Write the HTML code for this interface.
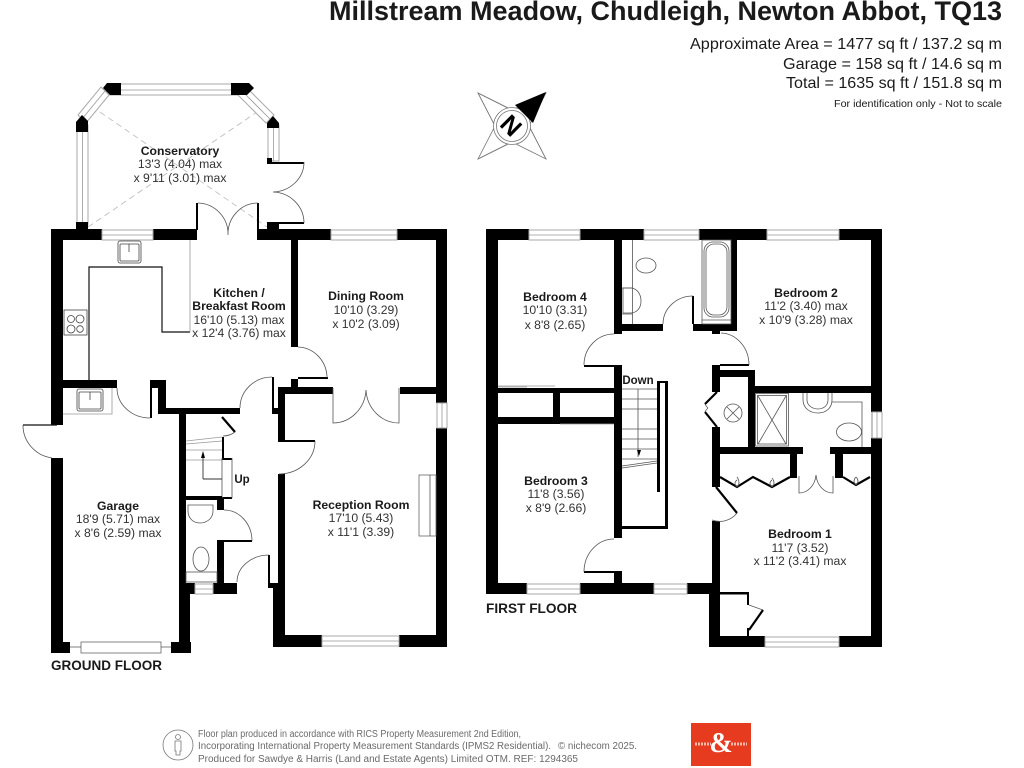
<!DOCTYPE html>
<html><head><meta charset="utf-8"><style>
html,body{margin:0;padding:0;background:#fff}
svg{display:block}
text{font-family:"Liberation Sans",sans-serif;fill:#1a1a1a}
.b{font-weight:700;font-size:12.2px;text-anchor:middle}
.r{font-size:12.2px;text-anchor:middle;fill:#333}
.f{font-weight:700;font-size:13.5px}
.g{font-size:9.7px;fill:#6a6a6a}
.h{font-size:15.6px;text-anchor:end}
.w{fill:#fff;stroke:#aaa;stroke-width:1}
.l{fill:none;stroke:#555;stroke-width:.8}
.t{fill:none;stroke:#111;stroke-width:1.2}
.k{fill:none;stroke:#000;stroke-width:2.2}
.y{fill:none;stroke:#999;stroke-width:.8}
.d{fill:none;stroke:#bbb;stroke-width:.8;stroke-dasharray:6 4}
</style></head><body>
<svg width="1024" height="768" viewBox="0 0 1024 768" xmlns="http://www.w3.org/2000/svg">
<rect width="1024" height="768" fill="#fff"/>
<text x="1002" y="20" text-anchor="end" font-weight="700" font-size="26.5" textLength="673" lengthAdjust="spacingAndGlyphs">Millstream Meadow, Chudleigh, Newton Abbot, TQ13</text>
<text class="h" x="1002" y="49" textLength="312" lengthAdjust="spacingAndGlyphs">Approximate Area = 1477 sq ft / 137.2 sq m</text>
<text class="h" x="1002" y="69" textLength="219" lengthAdjust="spacingAndGlyphs">Garage = 158 sq ft / 14.6 sq m</text>
<text class="h" x="1002" y="88" textLength="216" lengthAdjust="spacingAndGlyphs">Total = 1635 sq ft / 151.8 sq m</text>
<text x="1002" y="107" text-anchor="end" font-size="10.5" textLength="168" lengthAdjust="spacingAndGlyphs">For identification only - Not to scale</text>

<!-- compass -->
<g fill="none" stroke="#777" stroke-width=".8">
<path d="M478 93L512 110L546 93L529 126L546 159L512 142L478 159L495 126Z"/>
<path d="M478 93L495 126L512 110M478 93L512 110M478 159L512 142L495 126M546 159L529 126L512 142"/>
<circle cx="512" cy="126" r="18.5" fill="#fff"/><circle cx="512" cy="126" r="15.5"/>
</g>
<path d="M546 92L515 105L533 123Z" fill="#000"/>
<text x="0" y="0" transform="translate(512,126) rotate(45) translate(-10,9)" font-size="25" font-weight="700" style="fill:#000">N</text>

<!-- conservatory -->
<path class="d" d="M88 227L257 112M100 112L267 227"/>
<rect class="w" x="110" y="84" width="130" height="11"/><path class="y" d="M110 90H240"/>
<path class="w" d="M101 87L109 95L86 123L78 115Z"/><path class="y" d="M105 91L82 119"/>
<path class="w" d="M246 87L238 95L266 123L274 115Z"/><path class="y" d="M242 91L270 119"/>
<rect class="w" x="77" y="125" width="11" height="100"/><path class="y" d="M82.5 125V225"/>
<rect class="w" x="268" y="125" width="11" height="36"/><path class="y" d="M273.5 125V161"/>
<path d="M107 83H121V95H110L103 88ZM231 83H249L254 88L247 95H231ZM76 122L82 115L88 121V132H76ZM267 128V123L273 116L279 123V128ZM76 222H88V232H76Z" fill="#000"/>
<path d="M267 158H272V162H304V164H267Z" fill="#000"/>
<path d="M267 223H304V225H279V230H267Z" fill="#000" transform="translate(0,-1)"/>
<path class="l" d="M304 162A32 30 0 0 1 273 192A32 31 0 0 1 304 223"/>
<rect x="196" y="203" width="2" height="27" fill="#000"/><rect x="257" y="203" width="2" height="27" fill="#000"/>
<path class="l" d="M198 203A31 31 0 0 1 228 235A30 31 0 0 1 258 203"/>

<!-- ground walls -->
<g fill="#000">
<rect x="51" y="229" width="51" height="11"/><rect x="153" y="229" width="44" height="11"/><rect x="257" y="229" width="74" height="11"/><rect x="397" y="229" width="50" height="11"/>
<rect x="51" y="229" width="12" height="196"/><rect x="51" y="458" width="12" height="195"/>
<rect x="436" y="229" width="11" height="174"/><rect x="436" y="428" width="11" height="219"/>
<rect x="63" y="380" width="54" height="8"/>
<rect x="150" y="380" width="16" height="8"/><rect x="150" y="380" width="2" height="38"/><rect x="158" y="380" width="8" height="34"/>
<rect x="158" y="408" width="82" height="6"/>
<rect x="179" y="408" width="7" height="245"/><rect x="179" y="590" width="11" height="63"/>
<rect x="51" y="642" width="19" height="11"/><rect x="171" y="642" width="20" height="11"/>
<rect x="186" y="497" width="38" height="3"/><rect x="217" y="497" width="7" height="13"/><rect x="224" y="540" width="28" height="2"/><rect x="217" y="540" width="7" height="43"/>
<rect x="186" y="583" width="9" height="11"/><rect x="213" y="583" width="24" height="11"/>
<rect x="222" y="437" width="2" height="21"/><rect x="222" y="458" width="10" height="2"/><rect x="222" y="497" width="10" height="2"/>
<rect x="291" y="240" width="7" height="107"/><rect x="291" y="379" width="7" height="8"/><rect x="298" y="377" width="30" height="2"/>
<rect x="278" y="387" width="55" height="7"/><rect x="400" y="387" width="36" height="7"/>
<rect x="278" y="387" width="7" height="54"/><rect x="278" y="440" width="37" height="2"/><rect x="278" y="474" width="7" height="173"/>
<rect x="272" y="377" width="2" height="31"/><rect x="272" y="408" width="7" height="6"/>
<rect x="273" y="583" width="12" height="64"/><rect x="268" y="555" width="2" height="33"/><rect x="268" y="583" width="6" height="5"/>
<rect x="273" y="635" width="49" height="12"/><rect x="399" y="635" width="48" height="12"/>
</g>
<path class="k" d="M222 417L235 432"/>
<path class="l" d="M235 432A20 20 0 0 1 223 436"/>
<!-- ground windows -->
<g>
<rect class="w" x="102" y="230" width="51" height="10"/><path class="y" d="M102 235H153"/>
<rect class="w" x="331" y="230" width="66" height="10"/><path class="y" d="M331 235H397"/>
<rect class="w" x="322" y="636" width="77" height="10"/><path class="y" d="M322 641H399"/>
<rect class="w" x="437" y="403" width="10" height="25"/><path class="y" d="M442 403V428"/>
<rect class="w" x="195" y="584" width="18" height="10"/><path class="y" d="M195 589H213"/>
<rect x="81" y="642" width="80" height="11" fill="#fff" stroke="#666" stroke-width=".8"/><path class="l" d="M70 647H81M161 647H171"/>
</g>
<!-- ground doors -->
<path class="l" d="M298 347A30 31 0 0 1 327 378M272 377A32 31 0 0 0 240 408M117 388A33 30 0 0 0 150 418M23 425A34 33 0 0 0 52 458M315 441A36 33 0 0 1 279 474M224 510A28 31 0 0 1 252 541M237 582A32 27 0 0 1 269 555"/>
<path class="t" d="M23 425H57"/>
<path class="l" d="M333 388V423A33 35 0 0 0 366 390A33 35 0 0 0 399 423V388"/>
<!-- kitchen -->
<path class="t" d="M89 380V267H162V332H190"/><path class="y" d="M190 240V332"/>
<g fill="none" stroke="#444" stroke-width=".8">
<rect x="118" y="241" width="23" height="22" rx="2"/><rect x="120" y="244" width="19" height="17" rx="1"/><path d="M129 244V252"/>
<rect x="64" y="310" width="23" height="25"/><circle cx="71" cy="319" r="3.5"/><circle cx="80" cy="319" r="4"/><circle cx="71" cy="329" r="4"/><circle cx="80" cy="329" r="3.3"/>
<rect x="77" y="389" width="26" height="22" rx="2"/><rect x="79" y="392" width="22" height="17" rx="1"/><path d="M90 392V400"/>
</g>
<path class="y" d="M63 414H112V388"/>
<!-- ground stairs -->
<path class="y" d="M186 441L222 437M186 444L222 441M186 450H222M186 460H222"/>
<path class="l" d="M222 458V498M232 458V498"/>
<path d="M203 479V453M203 479H222" fill="none" stroke="#333" stroke-width=".9"/><path d="M201 458L203 451L205 458Z" fill="#000"/>
<rect x="186" y="496" width="36" height="2.5" fill="#000"/>
<!-- WC -->
<g fill="none" stroke="#555" stroke-width=".8">
<path d="M188 505H213V511C213 519 206 523 200 523C193 523 188 518 188 511Z"/><ellipse cx="201" cy="559" rx="8" ry="12"/><rect x="186" y="572" width="31" height="10"/>
</g>
<rect x="419" y="475" width="17" height="61" fill="#fff" stroke="#666" stroke-width=".8"/><path class="l" d="M430 475V536"/>

<!-- first floor walls -->
<g fill="#000">
<rect x="486" y="229" width="43" height="11"/><rect x="580" y="229" width="64" height="11"/><rect x="699" y="229" width="68" height="11"/><rect x="839" y="229" width="43" height="11"/>
<rect x="486" y="229" width="12" height="365"/><rect x="486" y="583" width="41" height="11"/><rect x="580" y="583" width="74" height="11"/><rect x="687" y="583" width="26" height="11"/>
<rect x="871" y="229" width="11" height="183"/><rect x="871" y="438" width="11" height="209"/>
<rect x="709" y="636" width="56" height="11"/><rect x="839" y="636" width="43" height="11"/><rect x="709" y="594" width="11" height="53"/><rect x="712" y="521" width="8" height="73"/>
<rect x="614" y="240" width="8" height="94"/><rect x="614" y="365" width="8" height="173"/><rect x="584" y="365" width="36" height="2"/><rect x="584" y="571" width="38" height="2"/><rect x="614" y="572" width="8" height="12"/>
<rect x="622" y="324" width="41" height="7"/><rect x="693" y="324" width="44" height="7"/><rect x="692" y="296" width="2" height="28"/><rect x="731" y="240" width="6" height="91"/>
<rect x="712" y="365" width="8" height="27"/><rect x="712" y="427" width="8" height="60"/><rect x="720" y="364" width="29" height="2"/><rect x="712" y="331" width="8" height="3"/>
<rect x="712" y="370" width="43" height="7"/><rect x="748" y="370" width="7" height="77"/><rect x="748" y="386" width="134" height="7"/>
<rect x="720" y="447" width="83" height="7"/><rect x="830" y="447" width="42" height="7"/><rect x="790" y="454" width="7" height="24"/><rect x="835" y="454" width="8" height="24"/>
<rect x="498" y="388" width="116" height="5"/><rect x="498" y="417" width="116" height="7"/><rect x="553" y="393" width="7" height="24"/>
<rect x="657" y="381" width="11" height="2"/><rect x="657" y="381" width="3" height="111"/><rect x="665" y="381" width="3" height="148"/><rect x="622" y="526" width="46" height="3"/>
<rect x="720" y="592" width="29" height="2.5"/><rect x="747" y="592" width="2" height="13"/><rect x="747" y="628" width="2" height="8"/>
</g>
<!-- first windows -->
<g>
<rect class="w" x="529" y="230" width="51" height="10"/><path class="y" d="M529 235H580"/>
<rect class="w" x="644" y="230" width="55" height="10"/><path class="y" d="M644 235H699"/>
<rect class="w" x="767" y="230" width="72" height="10"/><path class="y" d="M767 235H839"/>
<rect class="w" x="527" y="584" width="53" height="10"/><path class="y" d="M527 589H580"/>
<rect class="w" x="654" y="584" width="33" height="10"/><path class="y" d="M654 589H687"/>
<rect class="w" x="765" y="637" width="74" height="10"/><path class="y" d="M765 642H839"/>
<rect class="w" x="872" y="412" width="10" height="26"/><path class="y" d="M877 412V438"/>
</g>
<!-- first doors -->
<path class="l" d="M614 334A30 31 0 0 0 584 365M663 324A30 28 0 0 1 693 296M721 333A29 32 0 0 1 749 365M614 539A30 33 0 0 0 584 572M737 513A22 22 0 0 1 712 520M749 605L763 610"/>
<path class="k" d="M716 487L737 513M749 630L763 610M717 392L705 404M717 427L705 412"/>
<path class="l" d="M705 404A12 12 0 0 0 708 408M705 412A10 10 0 0 1 708 408"/>
<circle class="l" cx="733" cy="413" r="9"/><path class="l" d="M727 407L739 419M739 407L727 419"/>
<!-- wardrobes -->
<path class="k" d="M720 477L737 487L753 477L772 487L790 477M843 477L856 485L870 477"/>
<path class="l" d="M737 487Q741 483 737 477M737 487Q733 483 737 480M772 487Q776 483 772 478M772 487Q768 483 772 480M856 485Q860 481 856 477M856 485Q852 481 856 477"/>
<path class="l" d="M799 476V493A17 20 0 0 0 816 475A17 20 0 0 0 833 493V476"/>
<!-- closets -->
<path class="y" d="M498 387H527M555 386H498M560 424H614"/>
<!-- stairs first -->
<path class="l" d="M622 389H657M622 399H657M622 409H657M622 429H657M622 439H657M622 449H657M622 459H657M638 389V457M622 466L657 461M622 468L657 463"/>
<path d="M637 450L641 450L639 456Z" fill="#000"/>
<!-- bathroom -->
<g fill="none" stroke="#555" stroke-width=".8">
<path d="M632.5 240V324M622 288H633M622 314H633"/>
<ellipse cx="646" cy="265.5" rx="10" ry="7.5"/>
<path d="M623 288H630C637 288 641 294 641 301C641 308 637 313 630 313H623Z"/>
<rect x="702" y="240" width="29" height="84"/><rect x="704" y="242" width="25" height="75" rx="9"/><rect x="706" y="244" width="21" height="71" rx="8"/>
<path d="M702 320H731"/>
</g>
<g fill="none" stroke="#555" stroke-width=".8">
<rect x="755.5" y="393.5" width="33" height="52.5"/><rect x="757.5" y="395.5" width="29" height="48.5"/><path d="M758 396L786 444M786 396L758 444"/>
<path d="M803 393V400C803 408 810 413 818 413C826 413 832 408 832 400V393"/>
<path d="M807 393V400C807 405 812 409 818 409C824 409 828 405 828 400V393"/>
<path d="M832 402H862V447"/>
<ellipse cx="849" cy="432" rx="12.5" ry="9"/>
</g>
<path d="M872 412V438" stroke="#888" fill="none"/>

<!-- labels -->
<text class="b" x="180" y="155">Conservatory</text><text class="r" x="180" y="168">13'3 (4.04) max</text><text class="r" x="180" y="182">x 9'11 (3.01) max</text>
<text class="b" x="239" y="297">Kitchen /</text><text class="b" x="239" y="310">Breakfast Room</text><text class="r" x="239" y="324">16'10 (5.13) max</text><text class="r" x="239" y="337">x 12'4 (3.76) max</text>
<text class="b" x="366" y="300">Dining Room</text><text class="r" x="366" y="314">10'10 (3.29)</text><text class="r" x="366" y="328">x 10'2 (3.09)</text>
<text class="b" x="118" y="510">Garage</text><text class="r" x="118" y="523">18'9 (5.71) max</text><text class="r" x="118" y="537">x 8'6 (2.59) max</text>
<text class="b" x="361" y="509">Reception Room</text><text class="r" x="361" y="522">17'10 (5.43)</text><text class="r" x="361" y="536">x 11'1 (3.39)</text>
<text class="b" x="242" y="483" style="font-size:11.5px">Up</text>
<text class="b" x="555" y="301">Bedroom 4</text><text class="r" x="555" y="314">10'10 (3.31)</text><text class="r" x="555" y="329">x 8'8 (2.65)</text>
<text class="b" x="806" y="297">Bedroom 2</text><text class="r" x="806" y="310">11'2 (3.40) max</text><text class="r" x="806" y="324">x 10'9 (3.28) max</text>
<text class="b" x="556" y="485">Bedroom 3</text><text class="r" x="556" y="498">11'8 (3.56)</text><text class="r" x="556" y="512">x 8'9 (2.66)</text>
<text class="b" x="800" y="538">Bedroom 1</text><text class="r" x="800" y="552">11'7 (3.52)</text><text class="r" x="800" y="565">x 11'2 (3.41) max</text>
<text class="b" x="638" y="384" style="font-size:11.5px">Down</text>
<text class="f" x="51" y="670" textLength="111" lengthAdjust="spacingAndGlyphs">GROUND FLOOR</text>
<text class="f" x="486" y="613" textLength="91" lengthAdjust="spacingAndGlyphs">FIRST FLOOR</text>

<!-- footer -->
<g fill="none" stroke="#777" stroke-width=".8"><circle cx="178" cy="745" r="15"/><circle cx="178" cy="737" r="2.5"/><path d="M175 741H181V751H180V755H176V751H175Z"/></g>
<text class="g" x="198" y="737" textLength="323" lengthAdjust="spacingAndGlyphs">Floor plan produced in accordance with RICS Property Measurement 2nd Edition,</text>
<text class="g" x="198" y="749" textLength="353" lengthAdjust="spacingAndGlyphs">Incorporating International Property Measurement Standards (IPMS2 Residential).</text>
<text class="g" x="558" y="749" textLength="79" lengthAdjust="spacingAndGlyphs">© nichecom 2025.</text>
<text class="g" x="198" y="762" textLength="380" lengthAdjust="spacingAndGlyphs">Produced for Sawdye &amp; Harris (Land and Estate Agents) Limited OTM.   REF:  1294365</text>
<rect x="691" y="723" width="60" height="43" fill="#e63b1f"/>
<text x="721" y="752" text-anchor="middle" font-size="28" font-weight="700" style="fill:#fff;font-family:'Liberation Serif',serif">&amp;</text>
<path d="M695 744H711M731 744H747" stroke="#f3b9a8" stroke-width="3" stroke-dasharray="2 1" fill="none"/>
</svg>
</body></html>
